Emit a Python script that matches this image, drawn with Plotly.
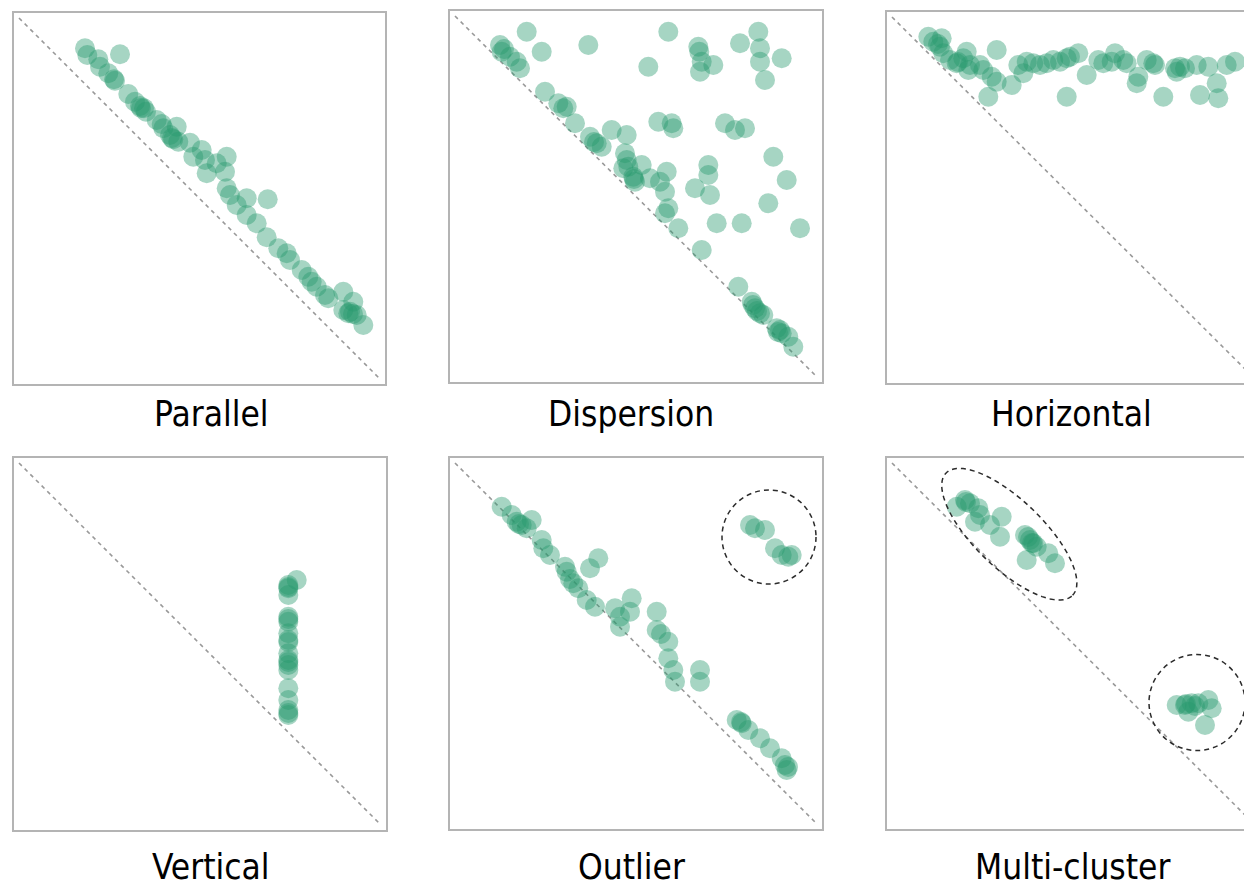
import numpy as np
import plotly.graph_objects as go

# ---------------- data (panel-local coordinates, px-like units) ----------------
titles = ["Parallel", "Dispersion", "Horizontal", "Vertical", "Outlier", "Multi-cluster"]

parallel_x = [72, 74.3, 85.3, 87, 107, 95.3, 101, 102, 115.3, 122, 127, 131, 133, 143.7, 148.7,
              150.3, 163.7, 157, 160.3, 165.3, 177, 188.7, 180.3, 192, 193.7, 203.7, 213.7, 212,
              213.7, 217, 223.7, 233.7, 254.7, 233.7, 243.7, 253.7, 265.3, 273.7, 277, 288.7, 295.3,
              298.7, 312, 315.3, 330.3, 330.3, 335.3, 340.3, 343.7, 350.3, 337, 303.7, 340, 128, 159]
parallel_y = [335.7, 329, 324.7, 317.3, 329.7, 310.7, 304.7, 303.3, 290, 282.3, 278, 275.7, 272.3,
              264, 260, 255.7, 257.3, 249, 244.7, 242.3, 241.3, 234, 227.3, 224, 210.7, 220.7, 227.3,
              212.3, 195.7, 189, 179, 185.7, 184.7, 169, 160.7, 146.7, 135.7, 130.7, 124, 114, 107.3,
              102.3, 89, 85.7, 92.3, 74, 70.7, 82.3, 69, 59, 72.3, 97.3, 70, 276, 246]

dispersion_x = [51, 52.7, 61, 67.7, 71, 77.7, 92.7, 139.3, 96, 109.3, 114.3, 117.7, 126, 141, 147.7,
                152.7, 162.7, 177.7, 176, 177.7, 179.3, 174.3, 184.3, 186, 192.7, 201, 211, 217.7,
                216, 219.3, 216, 229.3, 209.3, 222.7, 224.3, 199.3, 219.3, 249.3, 250.3, 252.7, 251,
                264.3, 291, 309.3, 311, 311, 316, 332.7, 276, 286, 296, 259.3, 259.3, 246, 261,
                267.7, 292.7, 324.3, 337.7, 319.3, 351, 252.7, 289.3, 302.7, 306, 311, 314.3, 327.7,
                332.7, 339.3, 344.3, 331, 304, 308, 329, 55, 145, 185]
dispersion_y = [338, 331.3, 326.3, 321.3, 314.7, 351.3, 331.3, 338, 291.3, 279.7, 274.7, 276.3,
                259.7, 246.3, 239.7, 236.3, 253, 248, 229.7, 223, 216.3, 214.7, 206.3, 201.3, 218,
                204.7, 201.3, 211.3, 191.3, 174.7, 169.7, 154.7, 261.3, 259.7, 254.7, 316.3, 351.3,
                336.3, 331.3, 321.3, 311.3, 318, 339.7, 351.3, 334.7, 321.3, 303, 324.7, 259.7, 253,
                254.7, 218, 208, 194.7, 188, 159.7, 159.7, 226.3, 203, 179.7, 154.7, 133, 96.3, 81.3,
                74.7, 69.7, 68, 54.7, 49.7, 46.3, 36.3, 53, 78, 72, 51, 334, 241, 204]

horizontal_x = [42.3, 47.3, 55.7, 54, 57.3, 64, 70.7, 77.3, 80.7, 84, 82.3, 94, 97.3, 110.7, 105.7,
                110.7, 102.3, 125.7, 132.3, 137.3, 140.7, 147.3, 154, 160.7, 167.3, 174, 180.7, 184,
                192.3, 180.7, 200.7, 212.3, 217.3, 225.7, 229, 237.3, 240.7, 252.3, 250.7, 260.7,
                267.3, 269, 277.3, 289, 294, 299, 310.7, 322.3, 330.7, 314, 332.3, 340.7, 349, 290.7,
                52, 72]
horizontal_y = [347.3, 342.3, 345.7, 337.3, 330.7, 324, 320.7, 325.7, 332.3, 319, 314, 319, 314, 334,
                307.3, 302.3, 287.3, 299, 319, 310.7, 322.3, 320.7, 319, 320.7, 324, 322.3, 325.7,
                327.3, 330.7, 287.3, 309, 324, 320.7, 322.3, 330.7, 324, 320.7, 307.3, 300.7, 324,
                320.7, 319, 287.3, 315.7, 317.3, 315.7, 319, 317.3, 300.7, 289, 285.7, 319, 322.3, 312.3,
                340, 322]

vertical_x = [283.7, 275.3, 275.3, 275.3, 275.3, 275.3, 275.3, 275.3, 275.3, 275.3, 275.3, 275.3,
              275.3, 275.3, 275.3, 275.3, 275.3, 275.3, 275.3, 275.3, 275.3]
vertical_y = [251, 246, 242.7, 236, 214.3, 209.3, 197.7, 191, 177.7, 171, 166, 161, 142.7, 131, 121,
              116, 212, 169, 118, 189, 244]

outlier_x = [52.7, 62.7, 67.7, 72.7, 77.7, 82.7, 92.7, 94.3, 101, 116, 117.7, 124.3, 129.3, 137.7,
             146, 141, 149.3, 166, 171, 171, 182.7, 181, 207.7, 207.7, 219.3, 219.3, 224.3, 226,
             251, 251, 287.7, 292.7, 299.3, 311, 321, 332.7, 336, 337.7, 301, 306, 316, 326, 332.7,
             342.7, 339.3, 121, 339, 292, 70, 212]
outlier_y = [324.3, 316, 309.3, 306, 302.7, 311, 291, 282.7, 276, 264.3, 259.3, 247.7, 242.7, 231,
             224.3, 262.7, 272.7, 222.7, 214.3, 204.3, 232.7, 219.3, 219.3, 201, 189.3, 172.7, 161,
             149.3, 161, 149.3, 111, 107.7, 101, 92.7, 82.7, 72.7, 66, 61, 306, 302.7, 301, 282.7,
             276, 276, 274.3, 252, 64, 109, 307, 197]

multicluster_x = [70.7, 79, 84, 92.3, 94, 89, 104, 115.7, 114, 139, 144, 147.3, 150.7, 140.7, 162.3,
                  169, 290.7, 299, 305.7, 312.3, 322.3, 325.7, 319, 302.3, 80, 142, 146, 300, 309]
multicluster_y = [324.3, 331, 327.7, 322.7, 316, 309.3, 306, 314.3, 294.3, 296, 291, 287.7, 284.3,
                  271, 277.7, 267.7, 126, 126, 127.7, 127.7, 131, 122.7, 106, 119.3, 329, 294, 288,
                  127, 125]

series_x = [parallel_x, dispersion_x, horizontal_x, vertical_x, outlier_x, multicluster_x]
series_y = [parallel_y, dispersion_y, horizontal_y, vertical_y, outlier_y, multicluster_y]

# ---------------- layout geometry ----------------
PAGE_W, PAGE_H = 1252, 884
OFF = 8  # page body margin: the figure is drawn 8px in from the page's top-left
W, H = PAGE_W - OFF, PAGE_H - OFF
# panel boxes in page pixels (left, top, right, bottom) and the local origin (left, bottom)
boxes = [(13, 12, 386, 385), (449, 10, 823, 383), (886, 11, 1260, 384),
         (13, 457, 387, 831), (449, 457, 823, 830), (886, 457, 1260, 830)]
origins = [(13, 384), (449, 383), (886, 384), (13, 831), (449, 831), (886, 831)]
label_pos = [(211, 414), (631, 414), (1071, 414), (211, 867), (631, 867), (1072, 867)]


def px(v):
    return (v - OFF) / W


def py(v):
    return 1 - (v - OFF) / H


GREEN = "rgb(40,152,110)"
fig = go.Figure()
shapes = []
annotations = []
layout_axes = {}

for i in range(6):
    k = i + 1
    sfx = "" if k == 1 else str(k)
    l, t, r, b = boxes[i]
    ox, oy = origins[i]
    rv = min(r, PAGE_W)
    xr = [l - ox, rv - ox]
    yr = [oy - b, oy - t]
    layout_axes["xaxis" + sfx] = dict(domain=[px(l), px(rv)], range=xr, visible=False,
                                      showgrid=False, zeroline=False, anchor="y" + sfx, fixedrange=True)
    layout_axes["yaxis" + sfx] = dict(domain=[py(b), py(t)], range=yr, visible=False,
                                      showgrid=False, zeroline=False, anchor="x" + sfx, fixedrange=True)

    fig.add_trace(go.Scatter(x=series_x[i], y=series_y[i], mode="markers",
                             xaxis="x" + sfx, yaxis="y" + sfx, showlegend=False,
                             marker=dict(size=20, color=GREEN, opacity=0.41, line=dict(width=0)),
                             hoverinfo="skip"))

    # panel frame
    shapes.append(dict(type="rect", xref="paper", yref="paper",
                       x0=px(l), x1=px(r), y0=py(b), y1=py(t),
                       line=dict(color="#b4b4b4", width=2), fillcolor="rgba(0,0,0,0)", layer="above"))
    # dashed diagonal
    bx1 = r - ox
    shapes.append(dict(type="line", xref="x" + sfx, yref="y" + sfx,
                       x0=xr[0] + 6, y0=yr[1] - 6, x1=bx1 - 6, y1=yr[0] + 6,
                       line=dict(color="#999999", width=1.6, dash="4px,4px"), layer="below"))

    lx, ly = label_pos[i]
    annotations.append(dict(text=titles[i], xref="paper", yref="paper", x=px(lx), y=py(ly),
                            xanchor="center", yanchor="middle", showarrow=False,
                            font=dict(family="DejaVu Sans Condensed, DejaVu Sans, sans-serif",
                                      size=35, color="#000000")))

# highlight outlines
dash_line = dict(color="#2b2b2b", width=1.5, dash="5px,4px")
shapes.append(dict(type="circle", xref="x5", yref="y5", x0=273, x1=367, y0=247, y1=341,
                   line=dash_line, fillcolor="rgba(0,0,0,0)", layer="above"))
shapes.append(dict(type="circle", xref="x6", yref="y6", x0=263, x1=359, y0=80.5, y1=176.5,
                   line=dash_line, fillcolor="rgba(0,0,0,0)", layer="above"))
cx, cy, a, bb, th = 123.3, 296.8, 88, 34, np.deg2rad(-44)
tt = np.linspace(0, 2 * np.pi, 90)
ex = cx + a * np.cos(tt) * np.cos(th) - bb * np.sin(tt) * np.sin(th)
ey = cy + a * np.cos(tt) * np.sin(th) + bb * np.sin(tt) * np.cos(th)
path = "M " + " L ".join(f"{u:.2f},{v:.2f}" for u, v in zip(ex, ey)) + " Z"
shapes.append(dict(type="path", xref="x6", yref="y6", path=path,
                   line=dash_line, fillcolor="rgba(0,0,0,0)", layer="above"))

fig.update_layout(width=W, height=H, margin=dict(l=0, r=0, t=0, b=0),
                  paper_bgcolor="white", plot_bgcolor="white",
                  shapes=shapes, annotations=annotations, **layout_axes)

fig.write_html("out.html")
